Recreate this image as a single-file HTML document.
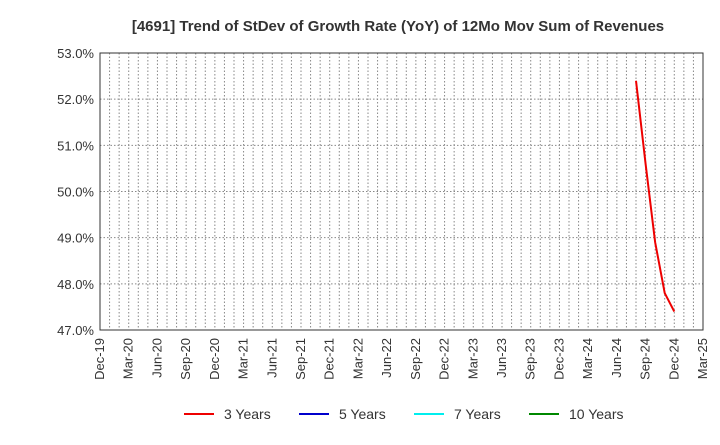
<!DOCTYPE html>
<html><head><meta charset="utf-8"><style>
body{margin:0;background:#fff;font-family:"Liberation Sans",Arial,sans-serif;}
</style></head><body>
<svg id="c" width="720" height="440" xmlns="http://www.w3.org/2000/svg" font-family="Liberation Sans, Arial, sans-serif">
<text x="398" y="31" text-anchor="middle" font-size="15" font-weight="bold" fill="#333">[4691]  Trend of StDev of Growth Rate (YoY) of 12Mo Mov Sum of Revenues</text>
<g id="grid"></g><g id="ax"></g><g id="series"></g>
<rect x="100" y="53" width="603" height="277" fill="none" stroke="#333"/>
<g font-size="14" fill="#333">
<line x1="184" y1="414" x2="214" y2="414" stroke="#e00" stroke-width="2"/><text x="224" y="419">3 Years</text>
<line x1="299" y1="414" x2="329" y2="414" stroke="#00c" stroke-width="2"/><text x="339" y="419">5 Years</text>
<line x1="414" y1="414" x2="444" y2="414" stroke="#0ee" stroke-width="2"/><text x="454" y="419">7 Years</text>
<line x1="529" y1="414" x2="559" y2="414" stroke="#080" stroke-width="2"/><text x="569" y="419">10 Years</text>
</g>
</svg>
<script>
const xLabels=["Dec-19","Mar-20","Jun-20","Sep-20","Dec-20","Mar-21","Jun-21","Sep-21","Dec-21","Mar-22","Jun-22","Sep-22","Dec-22","Mar-23","Jun-23","Sep-23","Dec-23","Mar-24","Jun-24","Sep-24","Dec-24","Mar-25"];
const yTicks=[47,48,49,50,51,52,53];
const monthIdx3=[56,57,58,59,60];
const values3=[52.4,50.6,48.9,47.8,47.4];
const NS="http://www.w3.org/2000/svg";
const X0=100,X1=703,Y0=330,Y1=53,NM=63;
const xs=m=>X0+(X1-X0)*m/NM;
const ys=v=>Y0-(Y0-Y1)*(v-47)/6;
function mk(t,a,p){const e=document.createElementNS(NS,t);for(const k in a)e.setAttribute(k,a[k]);p.appendChild(e);return e;}
const g=document.getElementById('grid'),ax=document.getElementById('ax'),s=document.getElementById('series');
for(let m=1;m<NM;m++){const l=mk('line',{x1:xs(m),x2:xs(m),y1:Y1,y2:Y0,stroke:'#888','stroke-dasharray':'1.5,2'},g);

}
yTicks.forEach(v=>{const l=mk('line',{x1:X0,x2:X1,y1:ys(v),y2:ys(v),stroke:'#888','stroke-dasharray':'1.5,2'},g);


const t=mk('text',{x:X0-6,y:ys(v)+5,'text-anchor':'end','font-size':'13',fill:'#333'},ax);t.textContent=v.toFixed(1)+'%';

});
xLabels.forEach((lb,i)=>{const x=xs(i*3);const t=mk('text',{x:x+4,y:Y0+8,'text-anchor':'end','font-size':'13',fill:'#333',transform:`rotate(-90 ${x+4} ${Y0+8})`},ax);t.textContent=lb;

});
const p=mk('polyline',{points:monthIdx3.map((m,i)=>xs(m)+','+ys(values3[i])).join(' '),fill:'none',stroke:'#e00','stroke-width':2},s);


</script>
</body></html>
